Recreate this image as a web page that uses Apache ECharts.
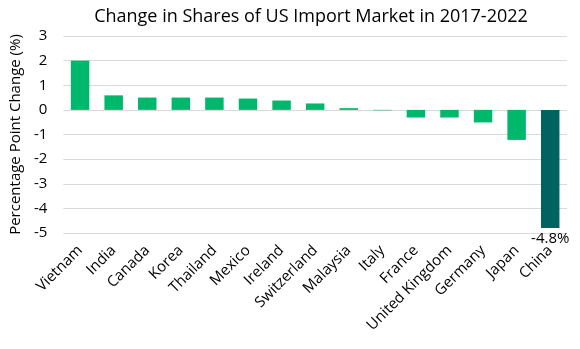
<!DOCTYPE html>
<html>
<head>
<meta charset="utf-8">
<script src="https://cdn.jsdelivr.net/npm/echarts@6/dist/echarts.min.js"></script>
<style>html,body{margin:0;padding:0;background:#fff;}#c{width:580px;height:349px;}</style>
</head>
<body>
<div id="c"></div>
<script>
const categories = ["Vietnam","India","Canada","Korea","Thailand","Mexico","Ireland","Switzerland","Malaysia","Italy","France","United Kingdom","Germany","Japan","China"];
const values = [2.0, 0.59, 0.5, 0.5, 0.5, 0.46, 0.38, 0.26, 0.07, -0.02, -0.31, -0.31, -0.51, -1.22, -4.8];
const highlightCategory = "China";
const highlightLabel = "-4.8%";
const titleText = "Change in Shares of US Import Market in 2017-2022";
const yAxisName = "Percentage Point Change (%)";

const font = "'Open Sans', 'Noto Sans', sans-serif";
const chart = echarts.init(document.getElementById('c'), null, {renderer:'canvas'});
chart.setOption({
  animation: false,
  title: {
    text: titleText, left: 306, top: 3, textAlign: 'center',
    textStyle: {fontFamily: font, fontSize: 18, fontWeight: 'normal', color: '#000'}
  },
  grid: {left: 60, right: 13, top: 36, bottom: 116},
  xAxis: {
    type: 'category', data: categories,
    axisLine: {show: false}, axisTick: {show: false},
    axisLabel: {rotate: 45, interval: 0, fontFamily: font, fontSize: 15, color: '#000', margin: 15}
  },
  yAxis: {
    type: 'value', min: -5, max: 3, interval: 1,
    name: yAxisName, nameLocation: 'middle', nameGap: 40,
    nameTextStyle: {fontFamily: font, fontSize: 15, color: '#000'},
    axisLabel: {fontFamily: font, fontSize: 15, color: '#000', margin: 16},
    splitLine: {lineStyle: {color: '#d9d9d9', width: 1}},
    axisLine: {show: false}, axisTick: {show: false}
  },
  series: [{
    type: 'bar', barWidth: '55%',
    data: values.map((v, i) => ({
      value: v,
      itemStyle: {color: categories[i] === highlightCategory ? '#00635f' : '#00b86b'},
      label: categories[i] === highlightCategory ? {
        show: true, position: 'bottom', formatter: highlightLabel,
        fontFamily: font, fontSize: 15, color: '#000', distance: 3
      } : {show: false}
    }))
  }]
});
</script>
</body>
</html>
